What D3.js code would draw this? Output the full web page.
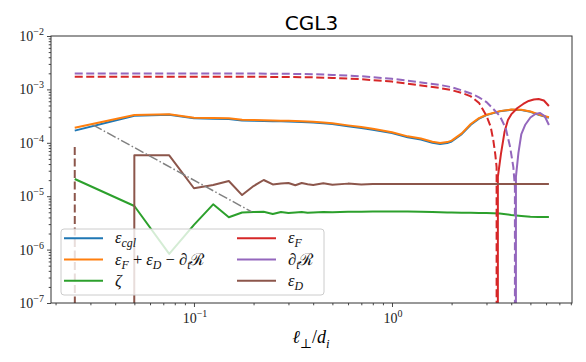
<!DOCTYPE html>
<html>
<head>
<meta charset="utf-8">
<script src="https://cdn.jsdelivr.net/npm/d3@7"></script>
<style>
  body { margin: 0; background: #fff; }
  svg { display: block; }
</style>
</head>
<body>
<div id="chart"></div>
<script>
// Data (x = l_perp / d_i, log scale).
const ellMain = [0.025, 0.05, 0.075, 0.1, 0.125, 0.15, 0.175, 0.2, 0.225, 0.25, 0.275, 0.3, 0.325, 0.35, 0.375, 0.4, 0.45, 0.5, 0.6, 0.7, 0.8, 1.0, 1.2, 1.4, 1.6, 1.75, 1.9, 2.0, 2.25, 2.5, 2.75, 3.0, 3.5, 4.0, 4.5, 5.0, 5.5, 6.2];
const epsCgl = [1.69e-4, 3.2e-4, 3.35e-4, 2.87e-4, 2.82e-4, 2.8e-4, 2.62e-4, 2.6e-4, 2.57e-4, 2.54e-4, 2.52e-4, 2.5e-4, 2.48e-4, 2.45e-4, 2.43e-4, 2.4e-4, 2.33e-4, 2.25e-4, 2.05e-4, 1.9e-4, 1.76e-4, 1.52e-4, 1.27e-4, 1.15e-4, 1.0e-4, 9.5e-5, 9.9e-5, 1.06e-4, 1.45e-4, 2.18e-4, 2.83e-4, 3.3e-4, 3.88e-4, 4.16e-4, 4.1e-4, 3.8e-4, 3.35e-4, 2.95e-4];
const epsSum = [1.92e-4, 3.32e-4, 3.42e-4, 2.95e-4, 2.9e-4, 2.88e-4, 2.7e-4, 2.68e-4, 2.65e-4, 2.62e-4, 2.6e-4, 2.58e-4, 2.56e-4, 2.53e-4, 2.51e-4, 2.48e-4, 2.4e-4, 2.32e-4, 2.12e-4, 1.97e-4, 1.83e-4, 1.58e-4, 1.32e-4, 1.2e-4, 1.05e-4, 9.9e-5, 1.03e-4, 1.1e-4, 1.5e-4, 2.25e-4, 2.9e-4, 3.35e-4, 3.92e-4, 4.2e-4, 4.15e-4, 3.85e-4, 3.4e-4, 3.0e-4];
const zeta = [2.1e-5, 6.55e-6, 8.3e-7, 2.9e-6, 7.05e-6, 4.03e-6, 4.95e-6, 5.06e-6, 5.13e-6, 4.65e-6, 5.06e-6, 4.85e-6, 4.95e-6, 5.06e-6, 4.9e-6, 4.95e-6, 5.08e-6, 5.0e-6, 5.1e-6, 5.13e-6, 5.15e-6, 5.17e-6, 5.15e-6, 5.1e-6, 5.05e-6, 5.0e-6, 4.97e-6, 4.95e-6, 4.92e-6, 4.9e-6, 4.87e-6, 4.85e-6, 4.74e-6, 4.45e-6, 4.26e-6, 4.13e-6, 4.07e-6, 4.07e-6];
const epsD = [-8.3e-5, 5.83e-5, 5.83e-5, 1.41e-5, 1.62e-5, 1.93e-5, 1.05e-5, 1.55e-5, 2.01e-5, 1.66e-5, 1.73e-5, 1.77e-5, 1.6e-5, 1.77e-5, 1.68e-5, 1.62e-5, 1.74e-5, 1.64e-5, 1.72e-5, 1.66e-5, 1.7e-5, 1.69e-5, 1.69e-5, 1.69e-5, 1.69e-5, 1.69e-5, 1.69e-5, 1.69e-5, 1.69e-5, 1.69e-5, 1.69e-5, 1.69e-5, 1.69e-5, 1.69e-5, 1.69e-5, 1.69e-5, 1.69e-5, 1.69e-5];

const ellF = [0.025, 0.1, 0.2, 0.3, 0.4, 0.5, 0.7, 1.0, 1.2, 1.5, 1.75, 2.0, 2.25, 2.5, 2.75, 3.0, 3.15, 3.25, 3.325, 3.375, 3.425, 3.55, 3.7, 3.85, 4.0, 4.3, 4.6, 4.9, 5.2, 5.5, 5.85, 6.2];
const epsF = [-1.73e-3, -1.73e-3, -1.72e-3, -1.71e-3, -1.68e-3, -1.64e-3, -1.55e-3, -1.4e-3, -1.28e-3, -1.14e-3, -1.06e-3, -9.7e-4, -8.6e-4, -7.4e-4, -5.6e-4, -3.2e-4, -2.0e-4, -1.1e-4, -6e-5, -3.5e-5, 2.3e-5, 6.2e-5, 1.59e-4, 2.67e-4, 3.4e-4, 4.49e-4, 5.33e-4, 6.07e-4, 6.47e-4, 6.61e-4, 6.2e-4, 4.89e-4];

const ellR = [0.025, 0.1, 0.2, 0.3, 0.4, 0.5, 0.7, 1.0, 1.2, 1.5, 1.75, 2.0, 2.25, 2.5, 2.75, 3.0, 3.25, 3.5, 3.75, 3.95, 4.1, 4.175, 4.225, 4.35, 4.5, 4.7, 5.0, 5.3, 5.6, 5.9, 6.2];
const dtR = [-1.99e-3, -1.99e-3, -1.98e-3, -1.96e-3, -1.92e-3, -1.87e-3, -1.76e-3, -1.58e-3, -1.46e-3, -1.3e-3, -1.21e-3, -1.1e-3, -9.6e-4, -8.4e-4, -7.1e-4, -5.8e-4, -4.3e-4, -3.2e-4, -1.9e-4, -8.3e-5, -3.5e-5, -1.5e-5, 2.3e-5, 6.5e-5, 1.46e-4, 2.15e-4, 2.98e-4, 3.46e-4, 3.61e-4, 3.18e-4, 2.15e-4];

const refEll = [0.031, 0.195];
const refVal = [2.15e-4, 5.13e-6];

const xMajor = [0.1, 1];
const yMajor = [1e-7, 1e-6, 1e-5, 1e-4, 1e-3, 1e-2];
const xExp = ["\u22121", "0"];
const yExp = ["\u22127", "\u22126", "\u22125", "\u22124", "\u22123", "\u22122"];

const colors = {
  cgl: "#1f77b4", sum: "#ff7f0e", zeta: "#2ca02c",
  F: "#d62728", R: "#9467bd", D: "#8c564b"
};

const W = 586, H = 362;
const plot = { left: 51, right: 572, top: 36, bottom: 303 };
const mathFont = "'Liberation Serif', 'DejaVu Serif', serif";

const svg = d3.select("#chart").append("svg")
  .attr("width", W).attr("height", H);

// Scales.
const xScale = d3.scaleLog().domain([0.01897, 8.11]).range([plot.left, plot.right]);
const yScale = d3.scaleLog().domain([1e-7, 1e-2]).range([plot.bottom, plot.top]);

svg.append("clipPath").attr("id", "clip")
  .append("rect")
  .attr("x", plot.left).attr("y", plot.top)
  .attr("width", plot.right - plot.left)
  .attr("height", plot.bottom - plot.top);

// Non-positive values drop far below the axes (like matplotlib's clip).
const lineGen = d3.line()
  .x((d) => xScale(d[0]))
  .y((d) => (d[1] > 0 ? yScale(d[1]) : 1e5));

function pairs(xs, ys, sign) {
  return xs.map((v, i) => [v, sign * ys[i]]);
}

const lines = svg.append("g").attr("clip-path", "url(#clip)");

const series = [
  { xs: ellMain, ys: epsCgl, color: colors.cgl, neg: false },
  { xs: ellMain, ys: epsSum, color: colors.sum, neg: false },
  { xs: ellMain, ys: zeta, color: colors.zeta, neg: false },
  { xs: ellF, ys: epsF, color: colors.F, neg: true },
  { xs: ellR, ys: dtR, color: colors.R, neg: true },
  { xs: ellMain, ys: epsD, color: colors.D, neg: true },
];

series.forEach((s) => {
  lines.append("path")
    .attr("d", lineGen(pairs(s.xs, s.ys, 1)))
    .attr("fill", "none")
    .attr("stroke", s.color)
    .attr("stroke-width", 2)
    .attr("stroke-linejoin", "round");
  if (s.neg) {
    lines.append("path")
      .attr("d", lineGen(pairs(s.xs, s.ys, -1)))
      .attr("fill", "none")
      .attr("stroke", s.color)
      .attr("stroke-width", 2)
      .attr("stroke-dasharray", "8,3.5");
  }
});

// Reference slope line.
lines.append("path")
  .attr("d", lineGen(pairs(refEll, refVal, 1)))
  .attr("fill", "none")
  .attr("stroke", "#808080")
  .attr("stroke-width", 1.5)
  .attr("stroke-dasharray", "9.6,2.4,1.5,2.4");

// Minor tick values.
const xMinor = [];
[0.01, 0.1, 1].forEach((d) => {
  for (let k = 2; k <= 9; k++) {
    const v = k * d;
    if (v > 0.01897 && v < 8.11) xMinor.push(v);
  }
});
const yMinor = [];
[1e-7, 1e-6, 1e-5, 1e-4, 1e-3].forEach((d) => {
  for (let k = 2; k <= 9; k++) yMinor.push(k * d);
});

function tickAxis(axis, transform) {
  const g = svg.append("g").attr("transform", transform).call(axis);
  g.select(".domain").remove();
  g.selectAll("line").attr("stroke", "#333").attr("stroke-width", 0.9);
  g.selectAll("text").remove();
  return g;
}

tickAxis(d3.axisBottom(xScale).tickValues(xMajor).tickSize(4), `translate(0,${plot.bottom})`);
tickAxis(d3.axisBottom(xScale).tickValues(xMinor).tickSize(2.3), `translate(0,${plot.bottom})`);
tickAxis(d3.axisLeft(yScale).tickValues(yMajor).tickSize(4), `translate(${plot.left},0)`);
tickAxis(d3.axisLeft(yScale).tickValues(yMinor).tickSize(2.3), `translate(${plot.left},0)`);

// Frame.
svg.append("rect")
  .attr("x", plot.left).attr("y", plot.top)
  .attr("width", plot.right - plot.left)
  .attr("height", plot.bottom - plot.top)
  .attr("fill", "none")
  .attr("stroke", "#333")
  .attr("stroke-width", 1);

// Tick labels like 10^-3.
function powerLabel(x, y, exp, anchor) {
  const t = svg.append("text")
    .attr("x", x).attr("y", y)
    .attr("text-anchor", anchor)
    .style("font-family", mathFont)
    .style("font-size", "14px")
    .attr("fill", "#222");
  t.append("tspan").text("10");
  t.append("tspan").attr("dy", -6).style("font-size", "10px").text(exp);
}

yMajor.forEach((v, i) => powerLabel(44, yScale(v) + 5, yExp[i], "end"));
xMajor.forEach((v, i) => powerLabel(xScale(v) + 1, 323, xExp[i], "middle"));

// Math-ish text with subscripts.
function mathText(sel, parts, size) {
  let shift = 0;
  parts.forEach((p) => {
    const target = p.sub ? size * 0.25 : 0;
    sel.append("tspan")
      .attr("dy", target - shift)
      .style("font-size", (p.sub ? size * 0.72 : size) + "px")
      .style("font-style", p.it ? "italic" : "normal")
      .text(p.t);
    shift = target;
  });
}

// Title.
svg.append("text")
  .attr("x", (plot.left + plot.right) / 2)
  .attr("y", 30)
  .attr("text-anchor", "middle")
  .style("font-family", "'DejaVu Sans', sans-serif")
  .style("font-size", "20px")
  .text("CGL3");

// X label.
const xLabel = svg.append("text")
  .attr("x", 311).attr("y", 343)
  .attr("text-anchor", "middle")
  .style("font-family", mathFont);
mathText(xLabel, [
  { t: "\u2113", it: true }, { t: "\u22a5", sub: true },
  { t: "/" }, { t: "d", it: true }, { t: "i", it: true, sub: true },
], 18);

// Legend.
const legend = svg.append("g");
legend.append("rect")
  .attr("x", 61).attr("y", 229)
  .attr("width", 263).attr("height", 66)
  .attr("rx", 3)
  .attr("fill", "#fff").attr("fill-opacity", 0.8)
  .attr("stroke", "#ccc").attr("stroke-width", 1);

const legendItems = [
  { color: colors.cgl, col: 0, row: 0, parts: [{ t: "\u03b5", it: true }, { t: "cgl", it: true, sub: true }] },
  { color: colors.sum, col: 0, row: 1, parts: [
    { t: "\u03b5", it: true }, { t: "F", it: true, sub: true }, { t: " + " },
    { t: "\u03b5", it: true }, { t: "D", it: true, sub: true }, { t: " \u2212 " },
    { t: "\u2202" }, { t: "t", it: true, sub: true }, { t: "\u211b" },
  ] },
  { color: colors.zeta, col: 0, row: 2, parts: [{ t: "\u03b6", it: true }] },
  { color: colors.F, col: 1, row: 0, parts: [{ t: "\u03b5", it: true }, { t: "F", it: true, sub: true }] },
  { color: colors.R, col: 1, row: 1, parts: [{ t: "\u2202" }, { t: "t", it: true, sub: true }, { t: "\u211b" }] },
  { color: colors.D, col: 1, row: 2, parts: [{ t: "\u03b5", it: true }, { t: "D", it: true, sub: true }] },
];

const colX = [64, 237];
const rowY = [238.3, 259.5, 280.7];

legendItems.forEach((d) => {
  const x0 = colX[d.col], y0 = rowY[d.row];
  legend.append("line")
    .attr("x1", x0).attr("x2", x0 + 39)
    .attr("y1", y0).attr("y2", y0)
    .attr("stroke", d.color).attr("stroke-width", 2);
  const t = legend.append("text")
    .attr("x", x0 + 51).attr("y", y0 + 5)
    .style("font-family", mathFont)
    .attr("fill", "#111");
  mathText(t, d.parts, 16.5);
});
</script>
</body>
</html>
